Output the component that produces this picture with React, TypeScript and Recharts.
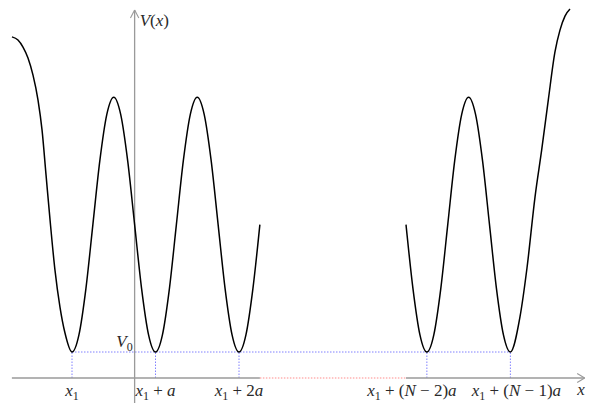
import { ComposedChart, Line, XAxis, YAxis, ReferenceLine, ReferenceDot } from "recharts";

// well positions (units of a, x1 = 0) and the bottom level V0
const minima = [0, 1, 2, 4.25, 5.25];
const v0 = 1;
const tickLabels = ["x_1", "x_1 + a", "x_1 + 2a", "x_1 + (N − 2)a", "x_1 + (N − 1)a"];

const leftX = [-0.719, -0.647, -0.587, -0.527, -0.467, -0.407, -0.359, -0.311, -0.263, -0.204, -0.144, -0.084, 0, 0.083, 0.167, 0.25, 0.333, 0.417, 0.5, 0.583, 0.667, 0.75, 0.833, 0.917, 1, 1.083, 1.167, 1.25, 1.333, 1.417, 1.5, 1.583, 1.667, 1.75, 1.833, 1.917, 2, 2.083, 2.167, 2.25];
const leftV = [13.12, 13.0, 12.73, 12.31, 11.65, 10.69, 9.54, 7.81, 6.08, 4.15, 2.73, 1.73, 1, 1.66, 3.45, 5.9, 8.35, 10.14, 10.8, 10.14, 8.35, 5.9, 3.45, 1.66, 1, 1.66, 3.45, 5.9, 8.35, 10.14, 10.8, 10.14, 8.35, 5.9, 3.45, 1.66, 1, 1.66, 3.45, 5.9];

const rightX = [4, 4.083, 4.167, 4.25, 4.333, 4.417, 4.5, 4.583, 4.667, 4.75, 4.833, 4.917, 5, 5.083, 5.167, 5.25, 5.365, 5.449, 5.545, 5.625, 5.704, 5.784, 5.844, 5.904, 5.964];
const rightV = [5.9, 3.45, 1.66, 1, 1.66, 3.45, 5.9, 8.35, 10.14, 10.8, 10.14, 8.35, 5.9, 3.45, 1.66, 1, 2.35, 4.23, 6.96, 8.77, 10.69, 12.54, 13.38, 13.92, 14.19];

// axes
const yAxisX = 0.75;
const yAxisRange = [-0.96, 14.15];
const xAxisRange = [-0.72, 6.14];
const gap = [2.25, 4.0];

const leftWell = leftX.map((x, i) => ({ x, v: leftV[i] }));
const rightWell = rightX.map((x, i) => ({ x, v: rightV[i] }));

const FONT = "Liberation Serif";
const GRAY = "#9a9a9a";
const BLUE = "#8080ff";
const RED = "#ff8c8c";
const tickShift = [0, 0, 0, -15, 6];

function MathText({ x, y, src, anchor = "middle" }: { x: number; y: number; src: string; anchor?: string }) {
  const parts: { t: string; it: boolean; sub: boolean }[] = [];
  for (let i = 0; i < src.length; i++) {
    const c = src[i];
    if (c === "_") {
      parts.push({ t: src[i + 1], it: false, sub: true });
      i++;
    } else {
      parts.push({ t: c, it: /[A-Za-z]/.test(c), sub: false });
    }
  }
  let prevSub = false;
  return (
    <text
      x={x}
      y={y}
      textAnchor={anchor}
      fill="#2a2a2a"
      style={{ whiteSpace: "pre", fontFamily: FONT, fontSize: 17 }}
    >
      {parts.map((p, i) => {
        const dy = p.sub && !prevSub ? 4 : !p.sub && prevSub ? -4 : 0;
        prevSub = p.sub;
        return (
          <tspan key={i} dy={dy} style={{ fontStyle: p.it ? "italic" : "normal", fontSize: p.sub ? 12 : 17 }}>
            {p.t}
          </tspan>
        );
      })}
    </text>
  );
}

export default function App() {
  return (
    <div style={{ position: "absolute", left: 0, top: 0, background: "#fff" }}>
      <ComposedChart width={599} height={413} margin={{ top: 0, right: 0, bottom: 0, left: 0 }}>
        <XAxis dataKey="x" type="number" domain={[-0.8623, 6.3114]} allowDataOverflow hide />
        <YAxis type="number" domain={[-1.346, 14.538]} allowDataOverflow hide />

        {/* V0 level and drop lines */}
        <ReferenceLine segment={[{ x: minima[0], y: v0 }, { x: minima[minima.length - 1], y: v0 }]} stroke={BLUE} strokeDasharray="1.5 1.5" ifOverflow="visible" />
        {minima.map((m) => (
          <ReferenceLine key={m} segment={[{ x: m, y: 0 }, { x: m, y: v0 }]} stroke={BLUE} strokeDasharray="1.5 1.5" ifOverflow="visible" />
        ))}

        {/* x axis with dotted gap */}
        <ReferenceLine segment={[{ x: xAxisRange[0], y: 0 }, { x: gap[0], y: 0 }]} stroke={GRAY} strokeWidth={1.3} ifOverflow="visible" />
        <ReferenceLine segment={[{ x: gap[0], y: 0 }, { x: gap[1], y: 0 }]} stroke={RED} strokeDasharray="1.5 1.5" strokeWidth={1.2} ifOverflow="visible" />
        <ReferenceLine segment={[{ x: gap[1], y: 0 }, { x: xAxisRange[1], y: 0 }]} stroke={GRAY} strokeWidth={1.3} ifOverflow="visible" />
        <ReferenceLine segment={[{ x: xAxisRange[1] - 0.09, y: 0.17 }, { x: xAxisRange[1], y: 0 }]} stroke={GRAY} strokeWidth={1.1} ifOverflow="visible" />
        <ReferenceLine segment={[{ x: xAxisRange[1] - 0.09, y: -0.17 }, { x: xAxisRange[1], y: 0 }]} stroke={GRAY} strokeWidth={1.1} ifOverflow="visible" />

        {/* y axis */}
        <ReferenceLine segment={[{ x: yAxisX, y: yAxisRange[0] }, { x: yAxisX, y: yAxisRange[1] }]} stroke={GRAY} strokeWidth={1.3} ifOverflow="visible" />
        <ReferenceLine segment={[{ x: yAxisX - 0.05, y: yAxisRange[1] - 0.3 }, { x: yAxisX, y: yAxisRange[1] }]} stroke={GRAY} strokeWidth={1.1} ifOverflow="visible" />
        <ReferenceLine segment={[{ x: yAxisX + 0.05, y: yAxisRange[1] - 0.3 }, { x: yAxisX, y: yAxisRange[1] }]} stroke={GRAY} strokeWidth={1.1} ifOverflow="visible" />

        <Line data={leftWell} dataKey="v" type="monotone" stroke="#000" strokeWidth={1.5} dot={false} activeDot={false} isAnimationActive={false} />
        <Line data={rightWell} dataKey="v" type="monotone" stroke="#000" strokeWidth={1.5} dot={false} activeDot={false} isAnimationActive={false} />

        {/* labels */}
        {minima.map((m, i) => (
          <ReferenceDot
            key={"t" + m}
            x={m}
            y={0}
            r={0}
            ifOverflow="visible"
            shape={(p: any) => <MathText x={p.cx + tickShift[i]} y={p.cy + 18} src={tickLabels[i]} />}
          />
        ))}
        <ReferenceDot x={xAxisRange[1]} y={0} r={0} ifOverflow="visible" shape={(p: any) => <MathText x={p.cx} y={p.cy + 17} src="x" anchor="end" />} />
        <ReferenceDot x={yAxisX} y={yAxisRange[1]} r={0} ifOverflow="visible" shape={(p: any) => <MathText x={p.cx + 5} y={p.cy + 16} src="V(x)" anchor="start" />} />
        <ReferenceDot x={yAxisX} y={v0} r={0} ifOverflow="visible" shape={(p: any) => <MathText x={p.cx - 2} y={p.cy - 5} src="V_0" anchor="end" />} />
      </ComposedChart>
    </div>
  );
}
